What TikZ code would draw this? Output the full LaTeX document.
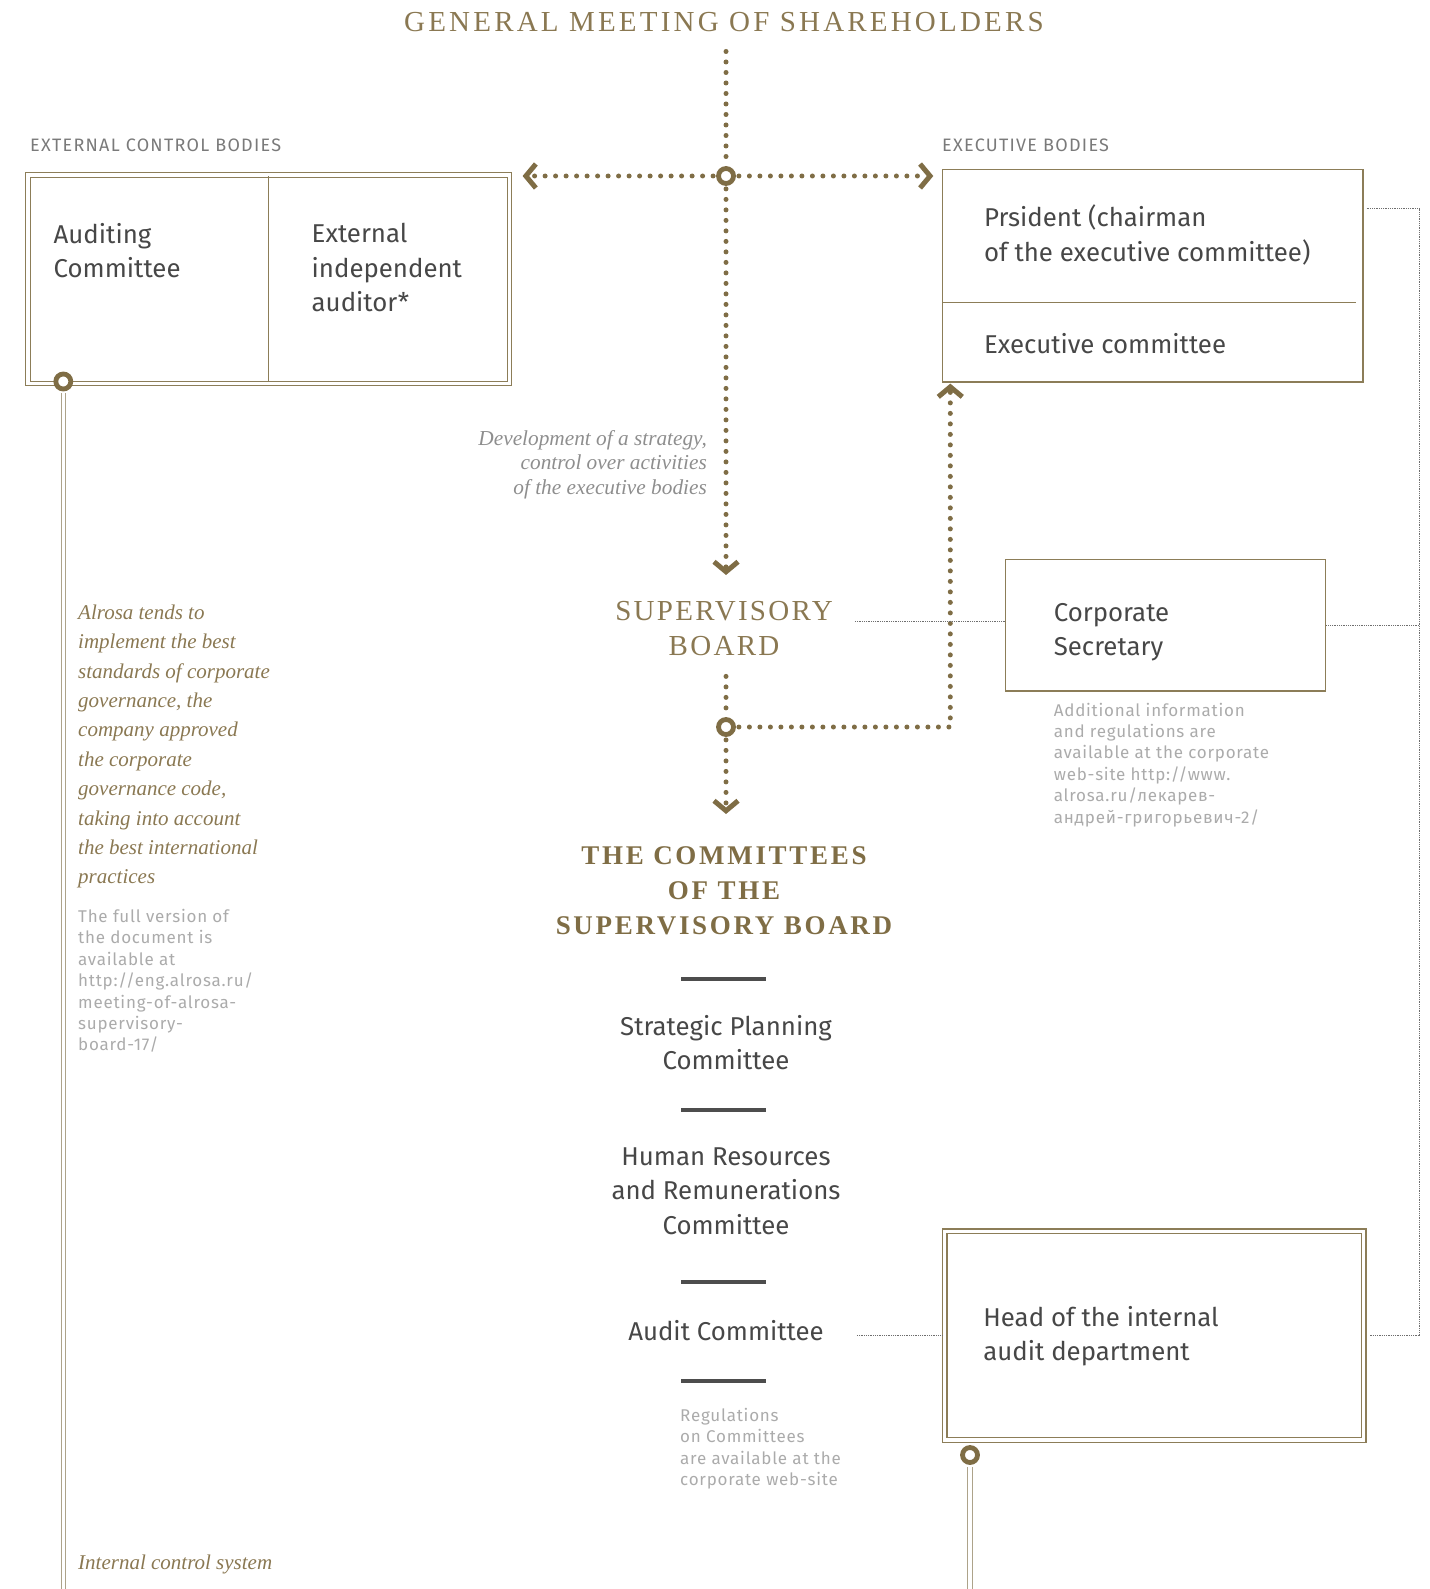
\documentclass[tikz,border=0pt]{standalone}
\usepackage{fontspec}
\setmainfont{Liberation Serif}
\setsansfont{Fira Sans}
\newfontfamily\gmsfont[LetterSpace=11]{Liberation Serif}
\newfontfamily\sbfont[LetterSpace=8]{Liberation Serif}
\newfontfamily\comfont[LetterSpace=10]{Liberation Serif}
\newfontfamily\notefont[LetterSpace=4.5]{Fira Sans}
\newfontfamily\labelfont[LetterSpace=7]{Fira Sans}
\usetikzlibrary{positioning,arrows.meta,calc}

\definecolor{gold}{HTML}{7F6D45}
\definecolor{titlegold}{HTML}{8A7852}
\definecolor{boxline}{HTML}{8C7D58}
\definecolor{railline}{HTML}{ADA38A}
\definecolor{bodytext}{HTML}{474747}
\definecolor{notegray}{HTML}{ABABAB}
\definecolor{capgray}{HTML}{7A7A7A}
\definecolor{italgray}{HTML}{8E8E8E}
\definecolor{bargray}{HTML}{4D4D4D}
\definecolor{dotgray}{HTML}{6E6E6E}

\begin{document}
\begin{tikzpicture}[x=1pt, y=-1pt,
    heading/.style={inner sep=0pt, text=titlegold},
    bodytxt/.style={inner sep=0pt, align=left, text=bodytext, font=\sffamily\fontsize{25.8}{34.5}\selectfont},
    ctrtxt/.style={bodytxt, align=center},
    note/.style={inner sep=0pt, align=left, text=notegray, font=\notefont\fontsize{17}{21.4}\selectfont},
    sectlabel/.style={inner sep=0pt, anchor=base west, text=capgray, font=\labelfont\fontsize{18}{20}\selectfont},
    goldital/.style={inner sep=0pt, align=left, text=titlegold, font=\itshape\fontsize{21}{29.4}\selectfont},
    plainbox/.style={draw=boxline, line width=1.3pt, inner sep=0pt},
    dblbox/.style={draw=boxline, double=white, double distance=3.5pt, line width=1.1pt, inner sep=0pt},
    rail/.style={draw=railline, double=white, double distance=3.2pt, line width=1.2pt},
    goldlink/.style={draw=gold, line width=5pt, line cap=round, dash pattern=on 0pt off 10.5pt},
    chev/.style={-{Straight Barb[length=10pt, width=24pt, line width=5pt]}},
    thinlink/.style={draw=dotgray, line width=0.9pt, dash pattern=on 0.9pt off 0.9pt},
    hubring/.style={circle, draw=gold, line width=4.8pt, fill=white, minimum size=15pt, inner sep=0pt},
    rulebar/.style={draw=bargray, line width=4.5pt}
]
\useasboundingbox (0,0) rectangle (1429,1589);

% General meeting
\node[heading, font=\gmsfont\fontsize{29}{34}\selectfont, anchor=base] (gms) at (724,32) {GENERAL MEETING OF SHAREHOLDERS};
\node[hubring] (hub) at (726,176) {};

% External control bodies
\node[sectlabel] (extlabel) at (30,152) {EXTERNAL CONTROL BODIES};
\node[dblbox, minimum width=481.5pt, minimum height=208.5pt] (ext) at (268.8,279.3) {};
\draw[boxline, line width=1.1pt, shorten <=2pt, shorten >=2pt] (ext.north) -- (ext.south);
\node[bodytxt, anchor=north west, below right=48.5pt and 26pt of ext.north west] (audc) {Auditing\\Committee};
\node[bodytxt, anchor=north west, below right=48.5pt and 284pt of ext.north west] (auditor) {External\\independent\\auditor*};
\node[hubring] (extring) at (63.3,381.5) {};

% Executive bodies
\node[sectlabel] (execlabel) at (942,152) {EXECUTIVE BODIES};
\node[plainbox, minimum width=420.5pt, minimum height=212.5pt] (exec) at (1152.7,275.7) {};
\draw[boxline, line width=1.3pt] (exec.west |- 0,302.5) -- ++(414.5,0);
\node[bodytxt, anchor=north west, below right=36pt and 42pt of exec.north west] (pres) {Prsident (chairman\\of the executive committee)};
\node[bodytxt, anchor=north west, below right=164pt and 42pt of exec.north west] (excom) {Executive committee};

% Supervisory board
\node[heading, font=\sbfont\fontsize{29}{35.5}\selectfont, align=center, anchor=north] (sb) at (724,601) {SUPERVISORY\\BOARD};
\node[inner sep=0pt, align=right, text=italgray, font=\itshape\fontsize{21.3}{24.5}\selectfont, anchor=north east] (devnote) at (707,430) {Development of a strategy,\\control over activities\\of the executive bodies};
\node[hubring] (hub2) at (726,727) {};

% Corporate secretary
\node[plainbox, minimum width=320.5pt, minimum height=131.5pt] (csec) at (1165.5,625.2) {};
\node[bodytxt, anchor=north west, below right=44pt and 49pt of csec.north west] (csectxt) {Corporate\\Secretary};
\node[note, anchor=north west, below right=11pt and 49pt of csec.south west] (csecnote) {Additional information\\and regulations are\\available at the corporate\\web-site http://www.\\alrosa.ru/лекарев-\\андрей-григорьевич-2/};

% Committees
\node[heading, text=gold, font=\comfont\bfseries\fontsize{27}{35}\selectfont, align=center, anchor=north] (comt) at (724,846) {THE COMMITTEES\\OF THE\\SUPERVISORY BOARD};
\foreach \y in {979,1110,1282,1381}
    \draw[rulebar] (681,\y) -- (766,\y);
\node[ctrtxt, anchor=north] (spc) at (726,1015) {Strategic Planning\\Committee};
\node[ctrtxt, anchor=north] (hrc) at (726,1147.5) {Human Resources\\and Remunerations\\Committee};
\node[ctrtxt, anchor=north] (audit) at (726,1320) {Audit Committee};
\node[note, anchor=north west] (regnote) at (680,1408) {Regulations\\on Committees\\are available at the\\corporate web-site};

% Internal audit
\node[dblbox, minimum width=419pt, minimum height=208.5pt] (head) at (1154.2,1335.5) {};
\node[bodytxt, anchor=north west, below right=75pt and 39pt of head.north west] (headtxt) {Head of the internal\\audit department};
\node[hubring] (headring) at (970,1455) {};

% Left notes
\node[goldital, anchor=north west] (alrosa) at (78,604.5) {Alrosa tends to\\implement the best\\standards of corporate\\governance, the\\company approved\\the corporate\\governance code,\\taking into account\\the best international\\practices};
\node[note, anchor=north west] (fullnote) at (78,909) {The full version of\\the document is\\available at\\http://eng.alrosa.ru/\\meeting-of-alrosa-\\supervisory-\\board-17/};
\node[goldital, anchor=base west] (ics) at (78,1569) {Internal control system};

% Gold dotted links
\draw[goldlink, shorten <=19pt, shorten >=3pt] (gms.south -| hub) -- (hub);
\draw[goldlink, chev, shorten <=3pt, shorten >=12.5pt] (hub) -- (ext.east |- hub);
\draw[goldlink, chev, shorten <=3pt, shorten >=8.5pt] (hub) -- (exec.west |- hub);
\draw[goldlink, chev, shorten <=3pt, shorten >=26pt] (hub) -- (hub |- sb.north);
\draw[goldlink, shorten <=20pt, shorten >=3pt] (sb.south -| hub2) -- (hub2);
\draw[goldlink, chev, shorten <=3pt, shorten >=32pt] (hub2) -- (hub2 |- comt.north);
\draw[goldlink, chev, shorten <=3pt, shorten >=1pt] (hub2) -| ([xshift=8.5pt]exec.south west);

% Thin links
\coordinate (railx) at (1419,0);
\draw[thinlink] ([shift={(3pt,-40pt)}]exec.north east) -| (railx |- head.east) -- ([xshift=6pt]head.east);
\draw[thinlink] (csec.east) -- (railx |- csec.east);
\draw[thinlink] ([xshift=22pt, yshift=4pt]sb.east |- csec.west) -- ([yshift=4pt]csec.west);
\draw[thinlink] ([xshift=33pt]audit.east |- head.west) -- ([xshift=-2.5pt]head.west);

% Rails
\draw[rail, shorten <=2pt] (extring) -- (extring |- 0,1589);
\draw[rail, shorten <=2pt] (headring) -- (headring |- 0,1589);
\end{tikzpicture}
\end{document}
